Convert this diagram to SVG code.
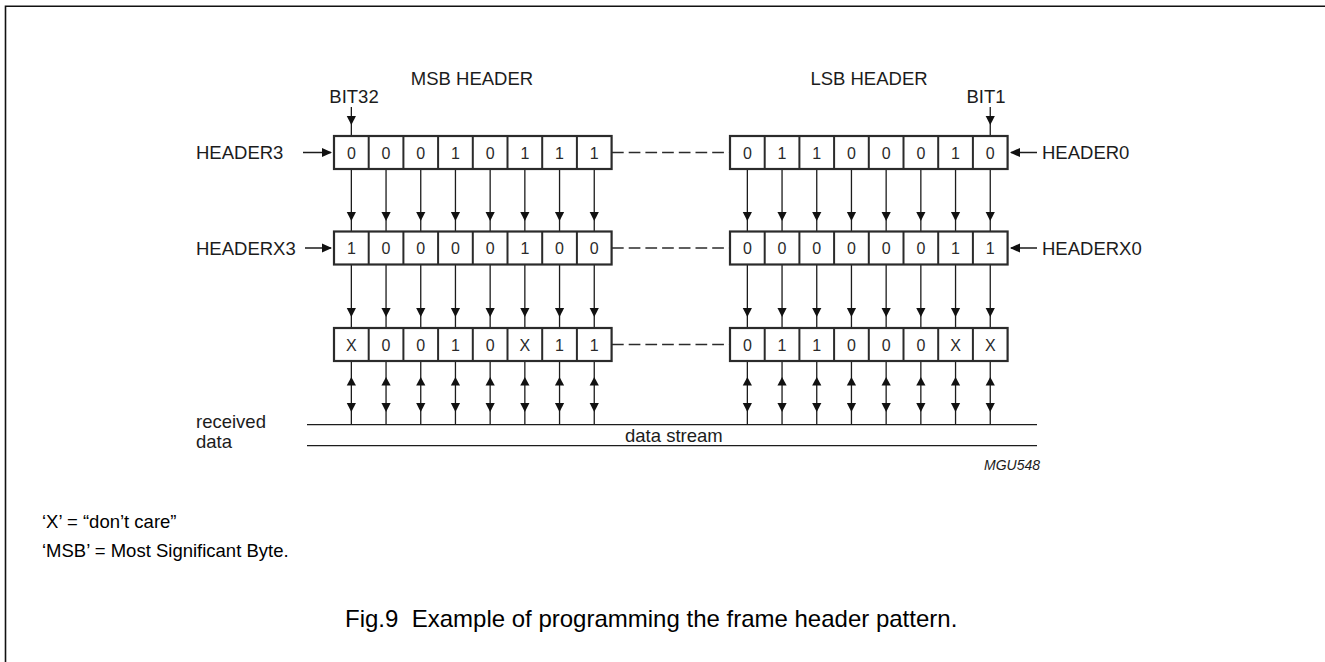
<svg xmlns="http://www.w3.org/2000/svg" width="1325" height="662" viewBox="0 0 1325 662">
<style>
text{font-family:"Liberation Sans",Arial,Helvetica,sans-serif;fill:#1c1c1c}
.lbl{font-size:18.5px}
.bit{font-size:16px;text-anchor:middle;fill:#2a2a2a}
.reg{fill:#fff;stroke:#2b2b2b;stroke-width:2.2}
.div{fill:none;stroke:#2b2b2b;stroke-width:2}
.ln{fill:none;stroke:#1c1c1c;stroke-width:1.3}
.dash{fill:none;stroke:#2b2b2b;stroke-width:1.4;stroke-dasharray:11.7 5}
.ah{fill:#111}
.cap{font-size:24px;fill:#000;white-space:pre}
.note{font-size:18.5px;fill:#000}
.id{font-size:14px;font-style:italic;text-anchor:end}
</style>
<defs>
<path id="ad" class="ah" d="M-4.6,-9L4.6,-9L0,0Z"/>
<path id="au" class="ah" d="M-4.6,8.5L4.6,8.5L0,0Z"/>
<path id="ar" class="ah" d="M-10,-4.6L-10,4.6L0,0Z"/>
<path id="al" class="ah" d="M10,-4.6L10,4.6L0,0Z"/>
<g id="col">
<path class="ln" d="M0,169V231.5M0,264.5V328M0,361V424.7"/>
<use href="#ad" x="0" y="221"/>
<use href="#ad" x="0" y="317"/>
<use href="#au" x="0" y="377"/>
<use href="#ad" x="0" y="412"/>
</g>
</defs>
<rect width="1325" height="662" fill="#fff"/>
<path d="M5.5,662V6.3H1325" fill="none" stroke="#111" stroke-width="1.6"/>

<g id="connectors">
<path class="ln" d="M351.35,107V136M990.25,107V136"/>
<use href="#ad" x="351.35" y="125"/>
<use href="#ad" x="990.25" y="125"/>
<path class="ln" d="M303,152.5H331M305,248H331M1011,152.5H1037M1011,248H1037"/>
<use href="#ar" x="332" y="152.5"/>
<use href="#ar" x="332" y="248"/>
<use href="#al" x="1010" y="152.5"/>
<use href="#al" x="1010" y="248"/>
<path class="dash" d="M612,152.5H730M612,248H730M612,344.5H730"/>
<use href="#col" x="351.35"/><use href="#col" x="386.05"/><use href="#col" x="420.75"/><use href="#col" x="455.45"/>
<use href="#col" x="490.15"/><use href="#col" x="524.85"/><use href="#col" x="559.55"/><use href="#col" x="594.25"/>
<use href="#col" x="747.35"/><use href="#col" x="782.05"/><use href="#col" x="816.75"/><use href="#col" x="851.45"/>
<use href="#col" x="886.15"/><use href="#col" x="920.85"/><use href="#col" x="955.55"/><use href="#col" x="990.25"/>
</g>

<g id="titles">
<text class="lbl" x="472" y="85" text-anchor="middle">MSB HEADER</text>
<text class="lbl" x="869" y="85" text-anchor="middle">LSB HEADER</text>
<text class="lbl" x="354" y="102.5" text-anchor="middle">BIT32</text>
<text class="lbl" x="986" y="102.5" text-anchor="middle">BIT1</text>
</g>

<g id="labels">
<text class="lbl" x="196" y="159">HEADER3</text>
<text class="lbl" x="196" y="254.5">HEADERX3</text>
<text class="lbl" x="1042" y="159">HEADER0</text>
<text class="lbl" x="1042" y="254.5">HEADERX0</text>
</g>

<g id="header3">
<rect class="reg" x="334" y="136" width="277.6" height="33"/>
<path class="div" d="M368.7,136V169M403.4,136V169M438.1,136V169M472.8,136V169M507.5,136V169M542.2,136V169M576.9,136V169"/>
<text class="bit" y="158.5"><tspan x="351.35">0</tspan><tspan x="386.05">0</tspan><tspan x="420.75">0</tspan><tspan x="455.45">1</tspan><tspan x="490.15">0</tspan><tspan x="524.85">1</tspan><tspan x="559.55">1</tspan><tspan x="594.25">1</tspan></text>
</g>
<g id="header0">
<rect class="reg" x="730" y="136" width="277.6" height="33"/>
<path class="div" d="M764.7,136V169M799.4,136V169M834.1,136V169M868.8,136V169M903.5,136V169M938.2,136V169M972.9,136V169"/>
<text class="bit" y="158.5"><tspan x="747.35">0</tspan><tspan x="782.05">1</tspan><tspan x="816.75">1</tspan><tspan x="851.45">0</tspan><tspan x="886.15">0</tspan><tspan x="920.85">0</tspan><tspan x="955.55">1</tspan><tspan x="990.25">0</tspan></text>
</g>
<g id="headerx3">
<rect class="reg" x="334" y="231.5" width="277.6" height="33"/>
<path class="div" d="M368.7,231.5V264.5M403.4,231.5V264.5M438.1,231.5V264.5M472.8,231.5V264.5M507.5,231.5V264.5M542.2,231.5V264.5M576.9,231.5V264.5"/>
<text class="bit" y="254"><tspan x="351.35">1</tspan><tspan x="386.05">0</tspan><tspan x="420.75">0</tspan><tspan x="455.45">0</tspan><tspan x="490.15">0</tspan><tspan x="524.85">1</tspan><tspan x="559.55">0</tspan><tspan x="594.25">0</tspan></text>
</g>
<g id="headerx0">
<rect class="reg" x="730" y="231.5" width="277.6" height="33"/>
<path class="div" d="M764.7,231.5V264.5M799.4,231.5V264.5M834.1,231.5V264.5M868.8,231.5V264.5M903.5,231.5V264.5M938.2,231.5V264.5M972.9,231.5V264.5"/>
<text class="bit" y="254"><tspan x="747.35">0</tspan><tspan x="782.05">0</tspan><tspan x="816.75">0</tspan><tspan x="851.45">0</tspan><tspan x="886.15">0</tspan><tspan x="920.85">0</tspan><tspan x="955.55">1</tspan><tspan x="990.25">1</tspan></text>
</g>
<g id="pattern-msb">
<rect class="reg" x="334" y="328" width="277.6" height="33"/>
<path class="div" d="M368.7,328V361M403.4,328V361M438.1,328V361M472.8,328V361M507.5,328V361M542.2,328V361M576.9,328V361"/>
<text class="bit" y="350.5"><tspan x="351.35">X</tspan><tspan x="386.05">0</tspan><tspan x="420.75">0</tspan><tspan x="455.45">1</tspan><tspan x="490.15">0</tspan><tspan x="524.85">X</tspan><tspan x="559.55">1</tspan><tspan x="594.25">1</tspan></text>
</g>
<g id="pattern-lsb">
<rect class="reg" x="730" y="328" width="277.6" height="33"/>
<path class="div" d="M764.7,328V361M799.4,328V361M834.1,328V361M868.8,328V361M903.5,328V361M938.2,328V361M972.9,328V361"/>
<text class="bit" y="350.5"><tspan x="747.35">0</tspan><tspan x="782.05">1</tspan><tspan x="816.75">1</tspan><tspan x="851.45">0</tspan><tspan x="886.15">0</tspan><tspan x="920.85">0</tspan><tspan x="955.55">X</tspan><tspan x="990.25">X</tspan></text>
</g>

<g id="data-stream">
<path class="ln" d="M307,424.7H1037M307,445.7H1037"/>
<text class="lbl" x="625" y="441.5">data stream</text>
<text class="lbl" x="196" y="428.3">received</text>
<text class="lbl" x="196" y="448.3">data</text>
</g>

<g id="notes">
<text class="id" x="1040" y="470">MGU548</text>
<text class="note" x="42" y="528.3">‘X’ = “don’t care”</text>
<text class="note" x="42" y="556.7">‘MSB’ = Most Significant Byte.</text>
<text class="cap" x="345" y="627" xml:space="preserve">Fig.9  Example of programming the frame header pattern.</text>
</g>
</svg>
